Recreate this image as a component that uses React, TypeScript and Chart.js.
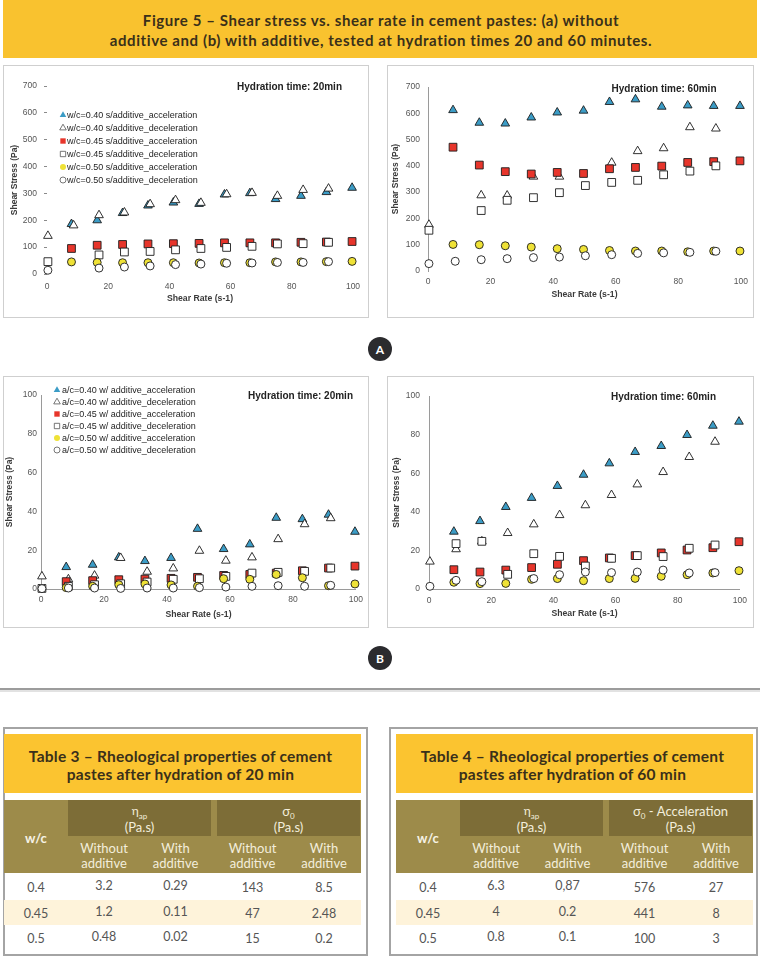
import React, { useEffect, useRef } from 'react';
import { Chart, registerables } from 'chart.js';

Chart.register(...registerables);

const FONT_SANS = '"Liberation Sans", Arial, sans-serif';
const FONT_DOC = 'Lato, "Open Sans", "DejaVu Sans", sans-serif';

// Shear rates (s-1) of the acceleration and deceleration readings
const ACC_RATE = [8, 16.4, 24.7, 33, 41.3, 49.7, 58, 66.3, 74.7, 83, 91.3, 99.7];
const DEC_RATE = [0.3, 8.7, 17, 25.3, 33.7, 42, 50.3, 58.7, 67, 75.3, 83.7, 92];

const X_MAX = 100;
const X_STEP = 20;
const Y_MAX_A = 700;
const Y_STEP_A = 100;
const Y_MAX_B = 100;
const Y_STEP_B = 20;

// (A) without additive, 20 min
const A20_ACC_040 = [186, 200, 227, 255, 266, 261, 296, 301, 279, 291, 305, 321];
const A20_DEC_040 = [142, 181, 219, 229, 260, 275, 265, 297, 302, 291, 313, 318];
const A20_ACC_045 = [95, 107, 110, 112, 113, 114, 116, 116, 116, 118, 119, 121];
const A20_DEC_045 = [46, null, 71, 82, 84, 90, 95, 99, 103, 112, 113, 118];
const A20_ACC_050 = [45, 43, 42, 42, 42, 41, 42, 42, 45, 45, 46, 47];
const A20_DEC_050 = [14, null, 22, 26, 30, 35, 37, 40, 41, 43, 43, 46];

// (A) without additive, 60 min
const A60_ACC_040 = [612, 564, 561, 584, 603, 610, 643, 653, 625, 630, 628, 628];
const A60_DEC_040 = [176, null, 288, 287, 359, 359, null, 412, 456, 467, 547, 542];
const A60_ACC_045 = [471, 403, 378, 369, 375, 371, 389, 394, 399, 413, 416, 419];
const A60_DEC_045 = [155, null, 230, 269, 279, 298, 325, 337, 345, 366, 380, 400];
const A60_ACC_050 = [101, 100, 96, 91, 85, 82, 78, 76, 76, 73, 76, 76];
const A60_DEC_050 = [28, 37, 43, 47, 51, 53, 58, 62, 67, 69, 71, 75];

// (B) with additive, 20 min
const B20_ACC_040 = [11.3, 12.5, 16.3, 14.4, 16, 31, 20.6, 23, 36.7, 36, 38.3, 29.5];
const B20_DEC_040 = [6.5, 5, 6.9, 16, 8.9, 10.6, 19.7, 14.6, 16.3, 25.7, 33.4, 36.5];
const B20_ACC_045 = [3.8, 4.3, 4.8, 5.1, 5.5, 6, 7, 7.5, 8.2, 9.4, 10.8, 11.8];
const B20_DEC_045 = [0.3, 1.4, 2.2, 2.7, 3.6, 5, 5.3, 6.5, 8.2, 8.6, 9.1, 10.8];
const B20_ACC_050 = [0.7, 1.4, 2.2, 2.6, 2.1, 1.4, 5.3, 5, 7.5, 5.8, 1.7, 2.6];
const B20_DEC_050 = [0.2, 0.5, 0.5, 0.3, 0.5, 0.5, 0.7, 1, 1.4, 1.7, 1.4, 1.9];

// (B) with additive, 60 min
const B60_ACC_040 = [29.7, 35.2, 42.5, 47.2, 53.4, 59.2, 65.1, 71, 74.1, 79.8, 84.6, 86.7];
const B60_DEC_040 = [14.2, 20.6, 24.7, 29, 33.5, 38.3, 43.4, 48.7, 54.2, 60.6, 68.4, 76.3];
const B60_ACC_045 = [10, 8.8, 9.8, 11.1, 12.8, 14.7, 16.1, 17.3, 18.7, 20.2, 21.4, 24.5];
const B60_DEC_045 = [null, 23.5, 24.7, 7.6, 18.3, 16.9, 11.9, 15.9, 17.3, 16.8, 21.1, 22.8];
const B60_ACC_050 = [3.5, 2.8, 2.9, 5, 5.4, 4.3, 5.4, 5.5, 6.6, 7.4, 8.3, 9.5];
const B60_DEC_050 = [1.4, 4.5, 3.8, null, 5.4, 7.4, 8.8, 8.5, 8.8, 9.8, 8.3, 8.5];

const LEGEND_A = [
  'w/c=0.40 s/additive_acceleration',
  'w/c=0.40 s/additive_deceleration',
  'w/c=0.45 s/additive_acceleration',
  'w/c=0.45 s/additive_deceleration',
  'w/c=0.50 s/additive_acceleration',
  'w/c=0.50 s/additive_deceleration',
];
const LEGEND_B = [
  'a/c=0.40 w/ additive_acceleration',
  'a/c=0.40 w/ additive_deceleration',
  'a/c=0.45 w/ additive_acceleration',
  'a/c=0.45 w/ additive_deceleration',
  'a/c=0.50 w/ additive_acceleration',
  'a/c=0.50 w/ additive_deceleration',
];

const X_TITLE = 'Shear Rate (s-1)';
const Y_TITLE = 'Shear Stress (Pa)';

const FIG_TITLE = [
  'Figure 5 – Shear stress vs. shear rate in cement pastes: (a) without',
  'additive and (b) with additive, tested at hydration times 20 and 60 minutes.',
];

// Tables
const WC = ['0.4', '0.45', '0.5'];
const T3_ETA_WITHOUT = ['3.2', '1.2', '0.48'];
const T3_ETA_WITH = ['0.29', '0.11', '0.02'];
const T3_SIGMA_WITHOUT = ['143', '47', '15'];
const T3_SIGMA_WITH = ['8.5', '2.48', '0.2'];
const T4_ETA_WITHOUT = ['6.3', '4', '0.8'];
const T4_ETA_WITH = ['0,87', '0.2', '0.1'];
const T4_SIGMA_WITHOUT = ['576', '441', '100'];
const T4_SIGMA_WITH = ['27', '8', '3'];

const STYLES = [
  { shape: 'triangle', fill: '#3B9CC6', radius: 5, rate: 'acc' },
  { shape: 'triangle', fill: '#FFFFFF', radius: 5, rate: 'dec' },
  { shape: 'rect', fill: '#E7352B', radius: 5.5, rate: 'acc' },
  { shape: 'rect', fill: '#FFFFFF', radius: 5.5, rate: 'dec' },
  { shape: 'circle', fill: '#EFE236', radius: 4, rate: 'acc' },
  { shape: 'circle', fill: '#FFFFFF', radius: 4, rate: 'dec' },
];

type Rect = { l: number; t: number; r: number; b: number };

function drawMarker(ctx: CanvasRenderingContext2D, shape: string, x: number, y: number, r: number, fill: string) {
  ctx.beginPath();
  if (shape === 'triangle') {
    ctx.moveTo(x, y - r);
    ctx.lineTo(x + r * 0.866, y + r / 2);
    ctx.lineTo(x - r * 0.866, y + r / 2);
    ctx.closePath();
  } else if (shape === 'rect') {
    const s = r * Math.SQRT1_2;
    ctx.rect(x - s, y - s, 2 * s, 2 * s);
  } else {
    ctx.arc(x, y, r, 0, Math.PI * 2);
  }
  ctx.fillStyle = fill;
  ctx.fill();
  if (fill === '#FFFFFF') {
    ctx.lineWidth = 0.8;
    ctx.strokeStyle = '#555';
    ctx.stroke();
  }
}

type PanelProps = {
  box: Rect;
  area: Rect;
  yMax: number;
  yStep: number;
  series: (number | null)[][];
  legend?: { labels: string[]; markerX: number; textX: number; y0: number; dy: number };
  hydration: string;
  hydrationPos: [number, number];
  yTitleX: number;
  xTitleY: number;
  yPad: number;
  xPad: number;
  xLine: boolean;
  yLine: boolean;
  yTickMarks: boolean;
};

function Panel(p: PanelProps) {
  const ref = useRef<HTMLCanvasElement>(null);
  const W = p.box.r - p.box.l;
  const H = p.box.b - p.box.t;
  useEffect(() => {
    if (!ref.current) return;
    const L = p.area.l - p.box.l;
    const T = p.area.t - p.box.t;
    const R = p.area.r - p.box.l;
    const B = p.area.b - p.box.t;
    const datasets = p.series.map((ys, i) => {
      const st = STYLES[i];
      const rates = st.rate === 'acc' ? ACC_RATE : DEC_RATE;
      return {
        label: p.legend ? p.legend.labels[i] : 'series ' + i,
        data: rates.map((x, j) => ({ x, y: ys[j] })).filter((d) => d.y !== null),
        pointStyle: st.shape,
        pointRadius: st.radius,
        pointHoverRadius: st.radius,
        pointBackgroundColor: st.fill,
        pointBorderColor: '#1c1c1c',
        pointBorderWidth: 0.9,
        showLine: false,
        clip: false,
        order: 10 - i,
      };
    });
    const legend = p.legend;
    const legendPlugin = {
      id: 'panelLegend',
      afterDraw(chart: any) {
        if (!legend) return;
        const ctx: CanvasRenderingContext2D = chart.ctx;
        ctx.save();
        ctx.font = `9px ${FONT_SANS}`;
        ctx.textBaseline = 'middle';
        legend.labels.forEach((lab, i) => {
          const y = legend.y0 + i * legend.dy - p.box.t;
          const st = STYLES[i];
          drawMarker(ctx, st.shape, legend.markerX - p.box.l, y, st.shape === 'circle' ? 3 : 3.8, st.fill);
          ctx.fillStyle = '#1e1e1e';
          ctx.fillText(lab, legend.textX - p.box.l, y + 0.5);
        });
        ctx.restore();
      },
    };
    const tickFont = { size: 8.5, family: FONT_SANS };
    const yTitleLH = 8.5 * 1.2;
    const xTitleLH = 8.7 * 1.2;
    const chart = new Chart(ref.current, {
      type: 'scatter',
      data: { datasets },
      options: {
        responsive: false,
        animation: false,
        layout: { padding: { left: 0, top: T, right: W - R, bottom: 0 } },
        plugins: { legend: { display: false }, tooltip: { enabled: false } },
        scales: {
          x: {
            type: 'linear',
            min: 0,
            max: X_MAX,
            ticks: { stepSize: X_STEP, font: tickFont, color: '#555', padding: p.xPad, maxRotation: 0 },
            grid: { display: false, drawTicks: false },
            border: { display: p.xLine, color: '#9a9a9a', width: 1 },
            title: {
              display: true,
              text: X_TITLE,
              color: '#3a3a3a',
              font: { size: 8.7, weight: 'bold', family: FONT_SANS },
              padding: { top: 0, bottom: p.box.b - p.xTitleY - xTitleLH / 2 },
            },
            afterFit: (s: any) => {
              s.height = H - B;
            },
          },
          y: {
            type: 'linear',
            min: 0,
            max: p.yMax,
            ticks: { stepSize: p.yStep, font: tickFont, color: '#555', padding: p.yPad },
            grid: {
              display: p.yTickMarks,
              drawOnChartArea: false,
              drawTicks: p.yTickMarks,
              tickLength: 3,
              color: '#8a8a8a',
            },
            border: { display: p.yLine, color: '#9a9a9a', width: 1 },
            title: {
              display: true,
              text: Y_TITLE,
              color: '#3a3a3a',
              font: { size: 8.5, weight: 'bold', family: FONT_SANS },
              padding: { top: p.yTitleX - p.box.l - yTitleLH / 2, bottom: 0 },
            },
            afterFit: (s: any) => {
              s.width = L;
            },
          },
        },
      } as any,
      plugins: [legendPlugin],
    });
    return () => chart.destroy();
  }, []);
  return (
    <>
      <canvas
        ref={ref}
        width={W}
        height={H}
        style={{ position: 'absolute', left: p.box.l, top: p.box.t, width: W, height: H, background: '#fff' }}
      />
      <div
        style={{
          position: 'absolute',
          left: p.box.l,
          top: p.box.t,
          width: W,
          height: H,
          boxSizing: 'border-box',
          border: '1px solid #cfcfcf',
          pointerEvents: 'none',
        }}
      />
      <div
        style={{
          position: 'absolute',
          left: p.hydrationPos[0],
          top: p.hydrationPos[1],
          transform: 'translate(-50%, -50%)',
          whiteSpace: 'nowrap',
          font: `bold 10px ${FONT_SANS}`,
          lineHeight: '12px',
          color: '#222',
        }}
      >
        {p.hydration}
      </div>
    </>
  );
}

function Badge({ cx, cy, text }: { cx: number; cy: number; text: string }) {
  return (
    <div
      style={{
        position: 'absolute',
        left: cx - 12,
        top: cy - 12,
        width: 24,
        height: 24,
        borderRadius: '50%',
        background: '#2b2b2e',
        color: '#fff',
        font: `bold 12px ${FONT_DOC}`,
        display: 'flex',
        alignItems: 'center',
        justifyContent: 'center',
      }}
    >
      {text}
    </div>
  );
}

function Txt({
  x,
  y,
  children,
  style,
}: {
  x: number;
  y: number;
  children: React.ReactNode;
  style?: React.CSSProperties;
}) {
  return (
    <div
      style={{
        position: 'absolute',
        left: x,
        top: y,
        transform: 'translate(-50%, -50%)',
        whiteSpace: 'nowrap',
        lineHeight: 1,
        ...style,
      }}
    >
      {children}
    </div>
  );
}

type TableProps = {
  dx: number;
  borderL: number;
  borderR: number;
  title: string[];
  group1: React.ReactNode;
  group2: React.ReactNode;
  cols: string[][];
};

function DataTable(tp: TableProps) {
  const dx = tp.dx;
  const inL = 4 + dx;
  const inW = 357;
  const colC = [104, 175.5, 252.5, 324].map((c) => c + dx);
  const rowY = [887, 912.5, 938];
  const light = '#F3EEDC';
  const titleStyle: React.CSSProperties = { font: `bold 15.5px ${FONT_DOC}`, color: '#3a301a', letterSpacing: '0.25px' };
  return (
    <>
      <div
        style={{
          position: 'absolute',
          left: tp.borderL,
          top: 727,
          width: tp.borderR - tp.borderL,
          height: 229,
          boxSizing: 'border-box',
          border: '2px solid #a4a4a4',
        }}
      />
      <div style={{ position: 'absolute', left: inL, top: 734, width: inW, height: 59, background: '#FBC430' }} />
      <Txt x={inL + inW / 2 - 2} y={756} style={titleStyle}>
        {tp.title[0]}
      </Txt>
      <Txt x={inL + inW / 2 - 2} y={774} style={titleStyle}>
        {tp.title[1]}
      </Txt>
      <div style={{ position: 'absolute', left: inL, top: 800, width: inW, height: 73, background: '#9D8B4A' }} />
      <div style={{ position: 'absolute', left: 68 + dx, top: 800, width: 143, height: 36, background: '#7D6D37' }} />
      <div style={{ position: 'absolute', left: 217 + dx, top: 800, width: 143, height: 36, background: '#7D6D37' }} />
      <Txt x={36 + dx} y={838} style={{ font: `bold 13px ${FONT_DOC}`, color: '#F7F3E6' }}>
        w/c
      </Txt>
      <Txt x={139.5 + dx} y={812} style={{ font: `12px ${FONT_DOC}`, color: light }}>
        {tp.group1}
      </Txt>
      <Txt x={139.5 + dx} y={827} style={{ font: `13px ${FONT_DOC}`, color: light }}>
        (Pa.s)
      </Txt>
      <Txt x={288.5 + dx} y={812} style={{ font: `13px ${FONT_DOC}`, color: light }}>
        {tp.group2}
      </Txt>
      <Txt x={288.5 + dx} y={827} style={{ font: `13px ${FONT_DOC}`, color: light }}>
        (Pa.s)
      </Txt>
      {colC.map((c, i) => (
        <React.Fragment key={'h' + i}>
          <Txt x={c} y={848} style={{ font: `13px ${FONT_DOC}`, color: light }}>
            {i % 2 === 0 ? 'Without' : 'With'}
          </Txt>
          <Txt x={c} y={863} style={{ font: `13px ${FONT_DOC}`, color: light }}>
            additive
          </Txt>
        </React.Fragment>
      ))}
      <div style={{ position: 'absolute', left: inL, top: 900, width: inW, height: 25, background: '#FEF3DA' }} />
      {WC.map((w, r) => (
        <React.Fragment key={'r' + r}>
          <Txt x={36 + dx} y={rowY[r]} style={{ font: `12.5px ${FONT_DOC}`, color: '#555' }}>
            {w}
          </Txt>
          {tp.cols.map((col, i) => (
            <Txt key={i} x={colC[i]} y={rowY[r] - (i < 2 ? 2 : 0)} style={{ font: `12.5px ${FONT_DOC}`, color: '#555' }}>
              {col[r]}
            </Txt>
          ))}
        </React.Fragment>
      ))}
    </>
  );
}

export default function App() {
  useEffect(() => {
    document.body.style.margin = '0';
  }, []);
  const eta = (
    <span>
      η<sub style={{ fontSize: 8, verticalAlign: 'sub' }}>ap</sub>
    </span>
  );
  const sigma = (
    <span>
      σ<sub style={{ fontSize: 8, verticalAlign: 'sub' }}>0</sub>
    </span>
  );
  const sigmaAcc = (
    <span>
      σ<sub style={{ fontSize: 8, verticalAlign: 'sub' }}>0</sub> - Acceleration
    </span>
  );
  const figTitleStyle: React.CSSProperties = { font: `bold 15px ${FONT_DOC}`, color: '#3a301a', letterSpacing: '0.6px' };
  return (
    <div style={{ position: 'absolute', left: 0, top: 0, width: 760, height: 969, background: '#fff', overflow: 'hidden' }}>
      <div style={{ position: 'absolute', left: 3, top: 0, width: 754, height: 58, background: '#F9C22F' }} />
      <Txt x={381} y={20} style={figTitleStyle}>
        {FIG_TITLE[0]}
      </Txt>
      <Txt x={381} y={40} style={figTitleStyle}>
        {FIG_TITLE[1]}
      </Txt>

      <Panel
        box={{ l: 3, t: 65, r: 369, b: 318 }}
        area={{ l: 47, t: 86, r: 353, b: 274 }}
        yMax={Y_MAX_A}
        yStep={Y_STEP_A}
        series={[A20_ACC_040, A20_DEC_040, A20_ACC_045, A20_DEC_045, A20_ACC_050, A20_DEC_050]}
        legend={{ labels: LEGEND_A, markerX: 63, textX: 67, y0: 115, dy: 13 }}
        hydration="Hydration time: 20min"
        hydrationPos={[289.5, 87]}
        yTitleX={15}
        xTitleY={299}
        yPad={7}
        xPad={8}
        xLine={false}
        yLine={false}
        yTickMarks={true}
      />
      <Panel
        box={{ l: 387, t: 65, r: 754, b: 318 }}
        area={{ l: 428, t: 87, r: 743, b: 271 }}
        yMax={Y_MAX_A}
        yStep={Y_STEP_A}
        series={[A60_ACC_040, A60_DEC_040, A60_ACC_045, A60_DEC_045, A60_ACC_050, A60_DEC_050]}
        hydration="Hydration time: 60min"
        hydrationPos={[664, 89]}
        yTitleX={396}
        xTitleY={295}
        yPad={8}
        xPad={6}
        xLine={false}
        yLine={true}
        yTickMarks={false}
      />
      <Badge cx={380} cy={349} text="A" />

      <Panel
        box={{ l: 3, t: 376, r: 369, b: 628 }}
        area={{ l: 41, t: 395, r: 357, b: 589 }}
        yMax={Y_MAX_B}
        yStep={Y_STEP_B}
        series={[B20_ACC_040, B20_DEC_040, B20_ACC_045, B20_DEC_045, B20_ACC_050, B20_DEC_050]}
        legend={{ labels: LEGEND_B, markerX: 57, textX: 62, y0: 390, dy: 12 }}
        hydration="Hydration time: 20min"
        hydrationPos={[300.5, 396]}
        yTitleX={10}
        xTitleY={615}
        yPad={4}
        xPad={6}
        xLine={true}
        yLine={true}
        yTickMarks={false}
      />
      <Panel
        box={{ l: 387, t: 376, r: 754, b: 628 }}
        area={{ l: 429, t: 396, r: 743, b: 589 }}
        yMax={Y_MAX_B}
        yStep={Y_STEP_B}
        series={[B60_ACC_040, B60_DEC_040, B60_ACC_045, B60_DEC_045, B60_ACC_050, B60_DEC_050]}
        hydration="Hydration time: 60min"
        hydrationPos={[663.5, 397]}
        yTitleX={397}
        xTitleY={614}
        yPad={9}
        xPad={7}
        xLine={true}
        yLine={true}
        yTickMarks={false}
      />
      <Badge cx={380} cy={658} text="B" />

      <div style={{ position: 'absolute', left: 0, top: 688, width: 760, height: 2, background: '#9c9c9c' }} />
      <div style={{ position: 'absolute', left: 0, top: 690, width: 760, height: 2, background: '#e2e2e2' }} />

      <DataTable
        dx={0}
        borderL={3}
        borderR={368}
        title={['Table 3 – Rheological properties of cement', 'pastes after hydration of 20 min']}
        group1={eta}
        group2={sigma}
        cols={[T3_ETA_WITHOUT, T3_ETA_WITH, T3_SIGMA_WITHOUT, T3_SIGMA_WITH]}
      />
      <DataTable
        dx={392}
        borderL={389}
        borderR={758}
        title={['Table 4 – Rheological properties of cement', 'pastes after hydration of 60 min']}
        group1={eta}
        group2={sigmaAcc}
        cols={[T4_ETA_WITHOUT, T4_ETA_WITH, T4_SIGMA_WITHOUT, T4_SIGMA_WITH]}
      />
    </div>
  );
}
